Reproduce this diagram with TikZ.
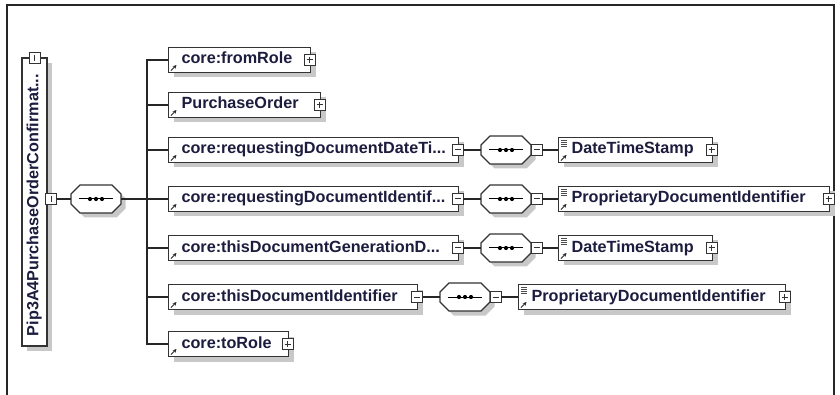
\documentclass[tikz,border=0pt]{standalone}
\usepackage{fontspec}
\setmainfont{Liberation Sans}
\usetikzlibrary{shadows,arrows.meta}
\definecolor{txtcol}{RGB}{28,28,62}
\definecolor{shd}{RGB}{200,200,200}
\newcommand\bx[2]{\makebox[#1pt][l]{\hspace{13pt}#2}}
\newcommand\refarr[1]{\draw[refarrow] ([shift={(3,-2.5)}]#1.south west) -- ([shift={(8.5,-8)}]#1.south west);}
\newcommand\txticon[1]{\foreach \k in {0,...,3}{\draw[black!70,line width=0.7pt] ([shift={(3,3+2*\k)}]#1.north west) -- ++(6,0);}}
\newcommand\seqbub[3]{%
  \node[seqhold] (#1) at (#2,#3) {};
  \fill[shd,shift={(#2+4.5,#3+4.5)}] (-25,-5) -- (-16,-14) -- (16,-14) -- (25,-5) -- (25,5) -- (16,14) -- (-16,14) -- (-25,5) -- cycle;
  \filldraw[fill=white,draw=black!80,line width=1.1pt,shift={(#2,#3)}] (-25,-5) -- (-16,-14) -- (16,-14) -- (25,-5) -- (25,5) -- (16,14) -- (-16,14) -- (-25,5) -- cycle;
  \draw[line width=1pt,shift={(#2,#3)}] (-17,0) -- (17,0);
  \foreach \d in {-6,0,6}{\fill[shift={(#2,#3)}] (\d,0) circle (2.1);}
}
\begin{document}
\begin{tikzpicture}[x=1pt,y=-1pt,
  myshadow/.style={drop shadow={shadow xshift=5pt,shadow yshift=-5pt,fill=shd,opacity=1}},
  elembox/.style={draw=black!80,line width=1.1pt,fill=white,inner sep=0pt,minimum height=25pt,
    anchor=west,font=\bfseries\fontsize{16.2}{18}\selectfont,text=txtcol,text height=12pt,text depth=4pt,myshadow},
  rootbox/.style={draw=black!80,line width=1.1pt,fill=white,inner sep=0pt,minimum width=25pt,minimum height=288pt,
    font=\bfseries\fontsize{16.2}{18}\selectfont,text=txtcol,myshadow},
  seqhold/.style={inner sep=0pt,minimum width=50pt,minimum height=28pt},
  btn/.style={draw=black!80,fill=white,minimum size=11pt,inner sep=0pt,line width=0.9pt},
  plusb/.style={btn,path picture={\draw[line width=1pt] ([xshift=2.5pt]path picture bounding box.west) -- ([xshift=-2.5pt]path picture bounding box.east) ([yshift=-2.5pt]path picture bounding box.north) -- ([yshift=2.5pt]path picture bounding box.south);}},
  minusb/.style={btn,path picture={\draw[line width=1pt] ([xshift=2.5pt]path picture bounding box.west) -- ([xshift=-2.5pt]path picture bounding box.east);}},
  vminusb/.style={btn,path picture={\draw[line width=1pt] ([yshift=-2.5pt]path picture bounding box.north) -- ([yshift=2.5pt]path picture bounding box.south);}},
  conn/.style={draw=black!85,line width=1.1pt},
  refarrow/.style={black!85,line width=0.9pt,-{Stealth[length=3.8pt,width=3.8pt]}}
]
\useasboundingbox (0,0) rectangle (840,395);
% frame
\draw[black!85,line width=1.6pt] (7,395) -- (7,5) -- (834,5) -- (834,395);

% root
\node[rootbox] (root) at (34.5,202) {\rotatebox{90}{\makebox[288pt][l]{\rule[-4pt]{0pt}{16pt}\hspace{10pt}Pip3A4PurchaseOrderConfirmat...}}};
\node[vminusb] (tb) at (34.5,58) {};
\node[vminusb] (rb) at (51,199) {};

% main sequence
\seqbub{s0}{96}{199}

% bus
\coordinate (bt) at (147,60);
\coordinate (bb) at (147,344);

% first-level elements
\node[elembox] (e1) at (168,60) {\bx{142}{core:fromRole}};
\node[elembox] (e2) at (168,105) {\bx{152}{PurchaseOrder}};
\node[elembox] (e3) at (168,150) {\bx{290}{core:requestingDocumentDateTi...}};
\node[elembox] (e4) at (168,199) {\bx{290}{core:requestingDocumentIdentif...}};
\node[elembox] (e5) at (168,248) {\bx{290}{core:thisDocumentGenerationD...}};
\node[elembox] (e6) at (168,297) {\bx{249}{core:thisDocumentIdentifier}};
\node[elembox] (e7) at (168,344) {\bx{120}{core:toRole}};
\foreach \n in {e1,e2,e3,e4,e5,e6,e7}{\refarr{\n}}

\node[plusb] (b1) at ([xshift=-1.5pt]e1.east) {};
\node[plusb] (b2) at ([xshift=-1.5pt]e2.east) {};
\node[minusb] (b3) at ([xshift=-1pt]e3.east) {};
\node[minusb] (b4) at ([xshift=-1pt]e4.east) {};
\node[minusb] (b5) at ([xshift=-1pt]e5.east) {};
\node[minusb] (b6) at ([xshift=-1pt]e6.east) {};
\node[plusb] (b7) at ([xshift=-1.5pt]e7.east) {};

% second-level sequences
\seqbub{s3}{506}{150}
\seqbub{s4}{506}{199}
\seqbub{s5}{506}{248}
\seqbub{s6}{465}{297}
\node[minusb] (c3) at (536.5,150) {};
\node[minusb] (c4) at (536.5,199) {};
\node[minusb] (c5) at (536.5,248) {};
\node[minusb] (c6) at (495.5,297) {};

% second-level elements
\node[elembox] (t3) at (558,150) {\bx{154}{DateTimeStamp}};
\node[elembox] (t4) at (558,199) {\bx{271}{ProprietaryDocumentIdentifier}};
\node[elembox] (t5) at (558,248) {\bx{154}{DateTimeStamp}};
\node[elembox] (t6) at (518,297) {\bx{267}{ProprietaryDocumentIdentifier}};
\foreach \n in {t3,t4,t5,t6}{\refarr{\n}\txticon{\n}}
\node[plusb] (p3) at ([xshift=-1.5pt]t3.east) {};
\node[plusb] (p4) at ([xshift=-1.5pt]t4.east) {};
\node[plusb] (p5) at ([xshift=-1.5pt]t5.east) {};
\node[plusb] (p6) at ([xshift=-1.5pt]t6.east) {};

% connectors
\draw[conn] (rb.east) -- (s0.west);
\draw[conn] (s0.east) -- (s0.east -| bt);
\draw[conn] (e1.west) -- (e1.west -| bt) -- (e7.west -| bt) -- (e7.west);
\foreach \n in {e2,e3,e4,e5,e6}{\draw[conn] (\n.west -| bt) -- (\n.west);}
\foreach \i in {3,4,5,6}{
  \draw[conn] (b\i.east) -- (s\i.west);
  \draw[conn] (c\i.east) -- (t\i.west);
}
\end{tikzpicture}
\end{document}
